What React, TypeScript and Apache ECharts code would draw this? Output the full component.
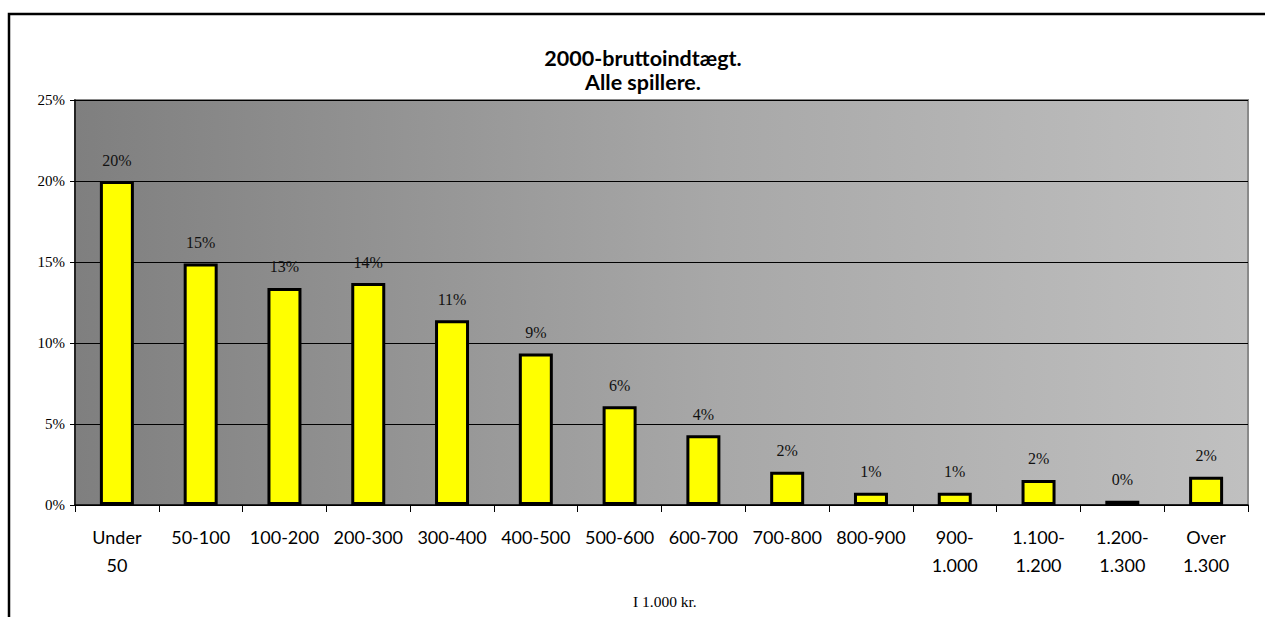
import React, { useEffect, useRef } from "react";
import * as echarts from "echarts";

const categories = [
  "Under\n50", "50-100", "100-200", "200-300", "300-400", "400-500", "500-600",
  "600-700", "700-800", "800-900", "900-\n1.000", "1.100-\n1.200", "1.200-\n1.300", "Over\n1.300",
];
const values = [20.0, 14.9, 13.4, 13.7, 11.4, 9.35, 6.1, 4.3, 2.05, 0.75, 0.75, 1.55, 0.27, 1.75];
const yTicks = { min: 0, max: 25, interval: 5 };
const titleLines = ["2000-bruttoindtægt.", "Alle spillere."];
const xAxisName = "I 1.000 kr.";

export default function App() {
  const ref = useRef<HTMLDivElement>(null);
  useEffect(() => {
    if (!ref.current) return;
    const chart = echarts.init(ref.current, null, { renderer: "svg" });
    chart.setOption({
      animation: false,
      backgroundColor: "#ffffff",
      title: {
        text: titleLines.join("\n"),
        left: 638,
        textAlign: "center",
        top: 41,
        textStyle: { fontFamily: "Lato", fontWeight: "bold", fontSize: 21.5, lineHeight: 24, color: "#000" },
      },
      graphic: [
        {
          type: "rect",
          shape: { x: 9, y: 14, width: 1280, height: 640 },
          style: { fill: "none", stroke: "#000", lineWidth: 2.5 },
          silent: true,
          z: 100,
        },
        {
          type: "text",
          left: 633,
          top: 593,
          style: { text: xAxisName, fontFamily: "Liberation Serif", fontSize: 15.5, fill: "#000" },
        },
      ],
      grid: {
        left: 75,
        right: 17,
        top: 100,
        bottom: 112,
        show: true,
        borderColor: "#8a8a8a",
        borderWidth: 2,
        backgroundColor: {
          type: "linear",
          x: 0, y: 0, x2: 1, y2: 0,
          colorStops: [
            { offset: 0, color: "#7f7f7f" },
            { offset: 0.55, color: "#a8a8a8" },
            { offset: 1, color: "#c0c0c0" },
          ],
        },
      },
      xAxis: {
        type: "category",
        data: categories,
        axisLine: { lineStyle: { color: "#000", width: 1.5 } },
        axisTick: { show: true, length: 7, lineStyle: { color: "#000" } },
        axisLabel: {
          interval: 0,
          margin: 18,
          fontFamily: "Lato",
          fontSize: 18,
          lineHeight: 28,
          color: "#000",
        },
      },
      yAxis: {
        type: "value",
        min: yTicks.min,
        max: yTicks.max,
        interval: yTicks.interval,
        axisLine: { show: true, lineStyle: { color: "#000", width: 1.5 } },
        axisTick: { show: true, length: 5, lineStyle: { color: "#000" } },
        splitLine: { show: true, lineStyle: { color: "#000", width: 1 } },
        axisLabel: {
          formatter: (v: number) => `${Math.round(v)}%`,
          fontFamily: "Liberation Serif",
          fontSize: 15,
          color: "#000",
          margin: 10,
        },
      },
      series: [
        {
          type: "bar",
          data: values,
          barWidth: 34,
          itemStyle: { color: "#ffff00", borderColor: "#000", borderWidth: 3 },
          label: {
            show: true,
            position: "top",
            distance: 13,
            formatter: (p: any) => `${Math.round(p.value)}%`,
            fontFamily: "Liberation Serif",
            fontSize: 16,
            color: "#111",
          },
        },
      ],
    });
    return () => chart.dispose();
  }, []);
  return <div ref={ref} style={{ position: "fixed", left: 0, top: 0, width: 1265, height: 617 }} />;
}
